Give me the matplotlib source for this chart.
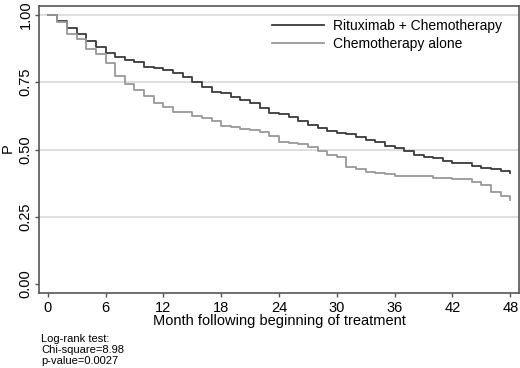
import matplotlib
matplotlib.use("Agg")
import matplotlib.pyplot as plt

plt.rcParams['font.family'] = ['Liberation Sans', 'DejaVu Sans']

# Rituximab + Chemotherapy (time in months, survival P)
t_rchop = [0, 1, 2, 3, 4, 5, 6, 7, 8, 9, 10, 11, 12, 13, 14, 15, 16, 17, 18, 19, 20,
           21, 22, 23, 24, 25, 26, 27, 28, 29, 30, 31, 32, 33, 34, 35, 36, 37, 38,
           39, 40, 41, 42, 44, 45, 46, 47, 48]
p_rchop = [1.0, 0.979, 0.953, 0.928, 0.903, 0.882, 0.860, 0.843, 0.833, 0.826, 0.808,
           0.802, 0.796, 0.783, 0.771, 0.750, 0.734, 0.715, 0.709, 0.696, 0.684,
           0.672, 0.653, 0.637, 0.631, 0.622, 0.606, 0.591, 0.579, 0.569, 0.563,
           0.556, 0.548, 0.535, 0.527, 0.513, 0.504, 0.493, 0.480, 0.471, 0.467,
           0.458, 0.451, 0.439, 0.430, 0.426, 0.420, 0.412]

# Chemotherapy alone
t_chemo = [0, 1, 2, 3, 4, 5, 6, 7, 8, 9, 10, 11, 12, 13, 15, 16, 17, 18, 19, 20, 21,
           22, 23, 24, 25, 26, 27, 28, 29, 30, 31, 32, 33, 34, 35, 36, 40, 42, 44,
           45, 46, 47, 48]
p_chemo = [1.0, 0.973, 0.928, 0.910, 0.874, 0.854, 0.820, 0.773, 0.742, 0.721, 0.700,
           0.672, 0.657, 0.641, 0.626, 0.616, 0.607, 0.587, 0.582, 0.576, 0.572,
           0.566, 0.550, 0.529, 0.525, 0.519, 0.508, 0.494, 0.480, 0.473, 0.436,
           0.426, 0.418, 0.414, 0.408, 0.402, 0.395, 0.389, 0.380, 0.368, 0.343,
           0.327, 0.313]

x_ticks = [0, 6, 12, 18, 24, 30, 36, 42, 48]
y_ticks = [0.0, 0.25, 0.5, 0.75, 1.0]
y_labels = ["0.00", "0.25", "0.50", "0.75", "1.00"]

fig = plt.figure(figsize=(5.2, 3.68), dpi=100)
ax = fig.add_axes([0.075, 0.2046, 0.923, 0.779])

for y in y_ticks[1:]:
    ax.axhline(y, color='#dcdcdc', lw=1.3, zorder=0)

ax.step(t_rchop, p_rchop, where='post', color='#3a3a3a', lw=1.3,
        label='Rituximab + Chemotherapy')
ax.step(t_chemo, p_chemo, where='post', color='#999999', lw=1.3,
        label='Chemotherapy alone')

ax.set_xlim(-0.9, 48.9)
ax.set_ylim(-0.032, 1.033)
ax.set_xticks(x_ticks)
ax.set_yticks(y_ticks)
ax.set_yticklabels(y_labels, rotation=90, va='center')
ax.tick_params(axis='both', labelsize=10.5, length=3.2, width=1, color='#555555')
ax.tick_params(axis='x', pad=3)
ax.tick_params(axis='y', pad=1.5)
for s in ax.spines.values():
    s.set_color('#555555')
    s.set_linewidth(1.2)

fig.text(8 / 520, 1 - 148 / 368, 'P', fontsize=10.5, rotation=90,
         ha='center', va='center')
ax.set_xlabel('Month following beginning of treatment', fontsize=10.5, labelpad=-1)

# legend sits a little left and down from the corner
ax.legend(loc='upper right', bbox_to_anchor=(1 - 7 / 480, 1 - 3 / 287),
          frameon=False, fontsize=10, handlelength=3.7,
          handletextpad=0.7, labelspacing=0.3, borderaxespad=0.3)

fig.text(41 / 520, 1 - 334 / 368, 'Log-rank test:\nChi-square=8.98\np-value=0.0027',
         fontsize=8, va='top', ha='left', linespacing=1.15)

fig.savefig('out.png', dpi=100)
